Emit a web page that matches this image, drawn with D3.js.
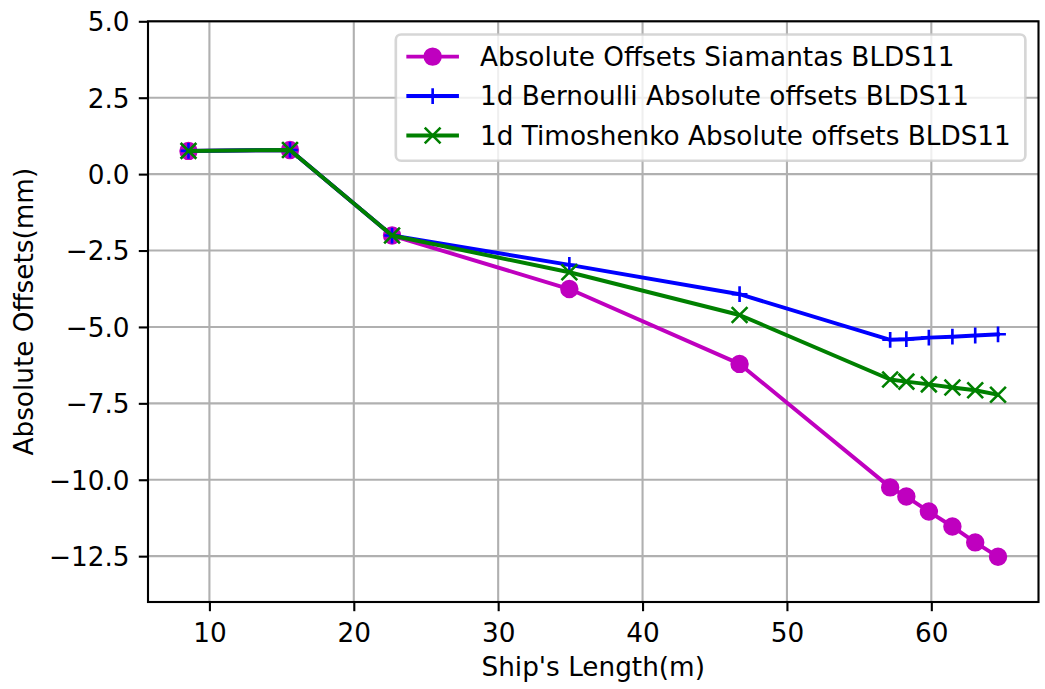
<!DOCTYPE html>
<html>
<head>
<meta charset="utf-8">
<script src="https://cdn.jsdelivr.net/npm/d3@7"></script>
<style>
  body { margin: 0; background: #fff; }
  svg text { font-family: "DejaVu Sans", sans-serif; fill: #000; }
</style>
</head>
<body>
<svg id="chart" width="1045" height="689"></svg>
<script>
// Station positions along the hull (m) and the offsets computed at each one (mm)
const shipLength = [8.55, 15.58, 22.65, 34.93, 46.72, 57.15, 58.27, 59.83, 61.46, 63.04, 64.62];
const siamantas  = [0.76, 0.79, -2.01, -3.76, -6.21, -10.25, -10.55, -11.04, -11.53, -12.05, -12.52];
const bernoulli  = [0.76, 0.79, -2.01, -2.97, -3.93, -5.42, -5.40, -5.35, -5.32, -5.28, -5.24];
const timoshenko = [0.76, 0.79, -2.01, -3.21, -4.61, -6.72, -6.79, -6.88, -6.98, -7.07, -7.22];

const seriesLabels = [
  "Absolute Offsets Siamantas BLDS11",
  "1d Bernoulli Absolute offsets BLDS11",
  "1d Timoshenko Absolute offsets BLDS11"
];
const seriesColors = ["#bf00bf", "#0000ff", "#008000"];
const seriesMarkers = ["circle", "plus", "cross"];

const xTicks = [10, 20, 30, 40, 50, 60];
const yTicks = [5.0, 2.5, 0.0, -2.5, -5.0, -7.5, -10.0, -12.5];
const yLimits = [-14, 5];
const xLabel = "Ship's Length(m)";
const yLabel = "Absolute Offsets(mm)";

// ---- sizing (points -> pixels) ----
const pt = 2.63;
const fontSize = 10 * pt;
const lineW = 1.5 * pt;
const markerSize = 6 * pt;
const markerEdge = 1 * pt;
const spineW = 0.8 * pt;
const gridW = 0.8 * pt;
const tickLen = 3.5 * pt;
const tickPad = 3.5 * pt;

const plot = { left: 148, right: 1038.5, top: 21.3, bottom: 602 };

const svg = d3.select("#chart");

// x-range padded 5% on each side of the data
const [xmin, xmax] = d3.extent(shipLength);
const xPad = (xmax - xmin) * 0.05;
const x = d3.scaleLinear().domain([xmin - xPad, xmax + xPad]).range([plot.left, plot.right]);
const y = d3.scaleLinear().domain(yLimits).range([plot.bottom, plot.top]);

// ---- grid ----
const grid = svg.append("g").attr("stroke", "#b0b0b0").attr("stroke-width", gridW);
grid.selectAll("line.gx").data(xTicks).join("line")
  .attr("x1", d => x(d)).attr("x2", d => x(d))
  .attr("y1", plot.top).attr("y2", plot.bottom);
grid.selectAll("line.gy").data(yTicks).join("line")
  .attr("y1", d => y(d)).attr("y2", d => y(d))
  .attr("x1", plot.left).attr("x2", plot.right);

// ---- series ----
const clip = svg.append("clipPath").attr("id", "plotClip").append("rect")
  .attr("x", plot.left).attr("y", plot.top)
  .attr("width", plot.right - plot.left).attr("height", plot.bottom - plot.top);

function drawMarker(sel, kind, color) {
  const h = markerSize / 2;
  if (kind === "circle") {
    sel.append("circle").attr("r", h).attr("fill", color)
      .attr("stroke", color).attr("stroke-width", markerEdge);
  } else if (kind === "plus") {
    sel.append("path").attr("d", `M${-h},0H${h}M0,${-h}V${h}`)
      .attr("fill", "none").attr("stroke", color).attr("stroke-width", markerEdge);
  } else {
    sel.append("path").attr("d", `M${-h},${-h}L${h},${h}M${-h},${h}L${h},${-h}`)
      .attr("fill", "none").attr("stroke", color).attr("stroke-width", markerEdge);
  }
}

const seriesValues = [siamantas, bernoulli, timoshenko];
const line = d3.line().x(d => x(d[0])).y(d => y(d[1]));
const marks = svg.append("g").attr("clip-path", "url(#plotClip)");
seriesValues.forEach((vals, i) => {
  const pts = shipLength.map((s, j) => [s, vals[j]]);
  const g = marks.append("g");
  g.append("path").datum(pts).attr("d", line)
    .attr("fill", "none").attr("stroke", seriesColors[i])
    .attr("stroke-width", lineW).attr("stroke-linejoin", "round").attr("stroke-linecap", "square");
  pts.forEach(p => {
    const m = g.append("g").attr("transform", `translate(${x(p[0])},${y(p[1])})`);
    drawMarker(m, seriesMarkers[i], seriesColors[i]);
  });
});

// ---- axes ----
const fmtY = d3.format(".1f");
const xAxis = svg.append("g").attr("transform", `translate(0,${plot.bottom})`)
  .call(d3.axisBottom(x).tickValues(xTicks).tickSize(tickLen).tickFormat(d3.format("d")));
xAxis.select(".domain").remove();
xAxis.selectAll(".tick line").attr("stroke", "#000").attr("stroke-width", spineW);
xAxis.selectAll(".tick text").attr("y", 641.7 - plot.bottom).attr("dy", 0)
  .attr("font-size", fontSize).attr("fill", "#000");

const yAxis = svg.append("g").attr("transform", `translate(${plot.left},0)`)
  .call(d3.axisLeft(y).tickValues(yTicks).tickSize(tickLen).tickFormat(fmtY));
yAxis.select(".domain").remove();
yAxis.selectAll(".tick line").attr("stroke", "#000").attr("stroke-width", spineW);
yAxis.selectAll(".tick text").attr("x", -(tickLen + tickPad)).attr("dy", "0.36em")
  .attr("font-size", fontSize).attr("fill", "#000");

// spines
svg.append("rect")
  .attr("x", plot.left).attr("y", plot.top)
  .attr("width", plot.right - plot.left).attr("height", plot.bottom - plot.top)
  .attr("fill", "none").attr("stroke", "#000").attr("stroke-width", spineW);

// axis labels
svg.append("text").attr("x", (plot.left + plot.right) / 2).attr("y", 676)
  .attr("text-anchor", "middle").attr("font-size", fontSize).text(xLabel);
svg.append("text")
  .attr("transform", `translate(32.5,${(plot.top + plot.bottom) / 2}) rotate(-90)`)
  .attr("text-anchor", "middle").attr("font-size", fontSize).text(yLabel);

// ---- legend (upper right) ----
const borderPad = 0.4 * fontSize;
const handleLen = 2.0 * fontSize;
const handlePad = 0.8 * fontSize;
const rowH = fontSize;
const rowGap = 0.5 * fontSize;
const axPad = 0.5 * fontSize;

const legend = svg.append("g");
const frame = legend.append("rect");
const texts = seriesLabels.map(t => legend.append("text").attr("font-size", fontSize).text(t));
const textW = d3.max(texts, t => t.node().getComputedTextLength());
const boxW = 2 * borderPad + handleLen + handlePad + textW + 4;
const boxH = 2 * borderPad + 3 * rowH + 2 * rowGap;
const boxRight = plot.right - axPad;
const boxTop = plot.top + axPad;
const boxLeft = boxRight - boxW;

frame.attr("x", boxLeft).attr("y", boxTop).attr("width", boxW).attr("height", boxH)
  .attr("rx", 0.2 * fontSize).attr("ry", 0.2 * fontSize)
  .attr("fill", "rgba(255,255,255,0.8)")
  .attr("stroke", "rgba(204,204,204,0.8)").attr("stroke-width", 1 * pt);

seriesLabels.forEach((lab, i) => {
  const cy = boxTop + borderPad + rowH / 2 + i * (rowH + rowGap) - 1.5;
  const hx0 = boxLeft + borderPad;
  legend.append("line").attr("x1", hx0).attr("x2", hx0 + handleLen)
    .attr("y1", cy).attr("y2", cy)
    .attr("stroke", seriesColors[i]).attr("stroke-width", lineW);
  const m = legend.append("g").attr("transform", `translate(${hx0 + handleLen / 2},${cy})`);
  drawMarker(m, seriesMarkers[i], seriesColors[i]);
  texts[i].attr("x", hx0 + handleLen + handlePad).attr("y", cy + 0.35 * fontSize);
});
</script>
</body>
</html>
